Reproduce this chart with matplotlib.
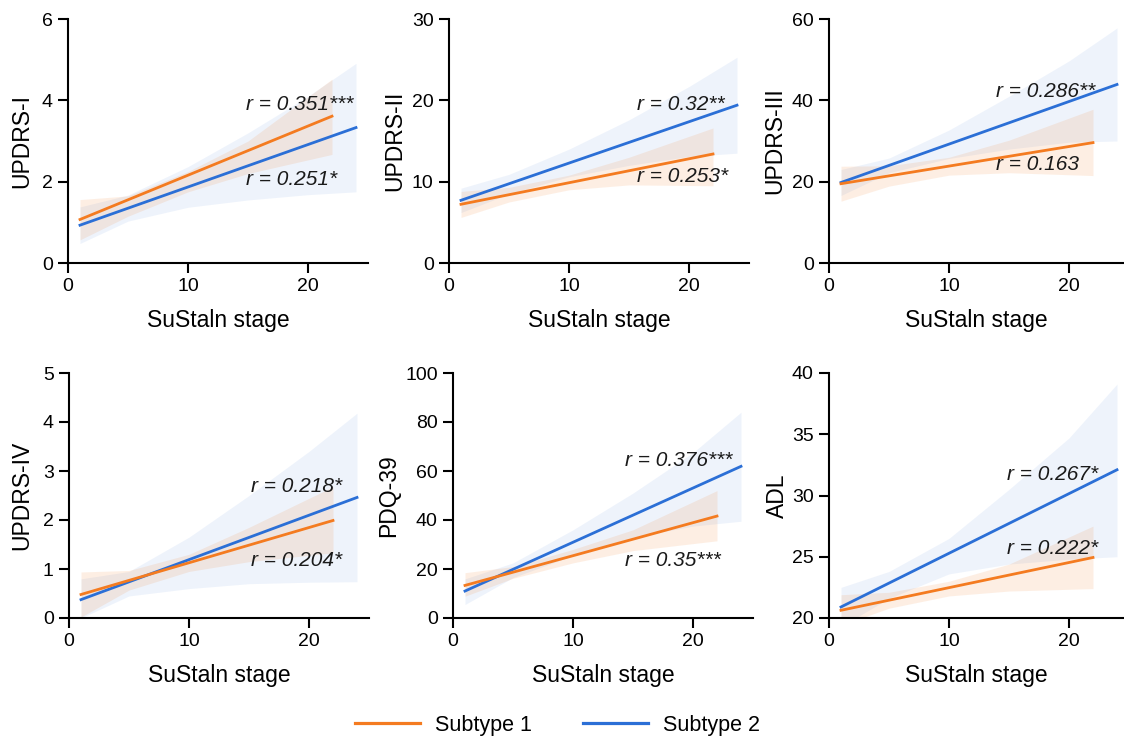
import matplotlib
matplotlib.use("Agg")
import matplotlib.pyplot as plt
from matplotlib.lines import Line2D

plt.rcParams["font.family"] = ["Liberation Sans", "DejaVu Sans"]

ORANGE = "#F47B20"
BLUE = "#2B6FD6"

# x positions where the confidence bands were read
x_s1 = [1, 5, 10, 15, 22]
x_s2 = [1, 5, 10, 15, 20, 24]

# fitted line end points (x=1 and x=22 for subtype 1, x=1 and x=24 for subtype 2)
line_s1 = {
    "UPDRS-I": [1.07, 3.61],
    "UPDRS-II": [7.22, 13.4],
    "UPDRS-III": [19.5, 29.6],
    "UPDRS-IV": [0.48, 1.99],
    "PDQ-39": [13.3, 41.6],
    "ADL": [20.63, 24.94],
}
line_s2 = {
    "UPDRS-I": [0.93, 3.33],
    "UPDRS-II": [7.71, 19.4],
    "UPDRS-III": [19.8, 43.9],
    "UPDRS-IV": [0.375, 2.46],
    "PDQ-39": [11.0, 61.9],
    "ADL": [20.9, 32.1],
}

# 95% CI bands
upper_s1 = {
    "UPDRS-I": [1.56, 1.65, 2.25, 3.0, 4.52],
    "UPDRS-II": [8.8, 9.3, 10.8, 13.0, 16.6],
    "UPDRS-III": [23.8, 23.9, 26.0, 30.2, 37.8],
    "UPDRS-IV": [0.94, 0.97, 1.30, 1.85, 2.68],
    "PDQ-39": [18.5, 21.0, 28.0, 36.0, 52.0],
    "ADL": [21.9, 22.1, 23.0, 24.4, 27.5],
}
lower_s1 = {
    "UPDRS-I": [0.57, 1.15, 1.75, 2.2, 2.67],
    "UPDRS-II": [5.6, 7.5, 9.0, 9.6, 9.5],
    "UPDRS-III": [15.2, 18.9, 21.6, 22.2, 21.5],
    "UPDRS-IV": [0.02, 0.57, 0.95, 1.15, 1.33],
    "PDQ-39": [8.9, 16.2, 22.5, 27.5, 31.5],
    "ADL": [19.4, 20.8, 21.8, 22.2, 22.4],
}
upper_s2 = {
    "UPDRS-I": [1.38, 1.67, 2.37, 3.2, 4.1, 4.91],
    "UPDRS-II": [9.2, 10.9, 14.0, 17.6, 21.7, 25.3],
    "UPDRS-III": [23.0, 25.8, 32.7, 41.0, 49.7, 57.8],
    "UPDRS-IV": [0.80, 0.95, 1.65, 2.5, 3.4, 4.18],
    "PDQ-39": [16.0, 22.5, 36.0, 51.0, 67.5, 84.0],
    "ADL": [22.5, 23.8, 26.5, 30.5, 34.7, 39.1],
}
lower_s2 = {
    "UPDRS-I": [0.48, 1.03, 1.37, 1.55, 1.68, 1.75],
    "UPDRS-II": [6.2, 8.5, 10.6, 12.0, 13.1, 13.5],
    "UPDRS-III": [16.6, 22.2, 25.7, 28.0, 29.7, 30.0],
    "UPDRS-IV": [0.0, 0.45, 0.6, 0.7, 0.73, 0.74],
    "PDQ-39": [5.5, 16.5, 25.5, 33.0, 37.5, 39.5],
    "ADL": [19.3, 21.6, 23.6, 24.4, 24.8, 25.0],
}

# r labels: (label, x, y)
r_s1 = {
    "UPDRS-I": ("r = 0.351***", 14.8, 3.9),
    "UPDRS-II": ("r = 0.253*", 15.7, 10.6),
    "UPDRS-III": ("r = 0.163", 13.9, 24.1),
    "UPDRS-IV": ("r = 0.204*", 15.2, 1.18),
    "PDQ-39": ("r = 0.35***", 14.3, 23.3),
    "ADL": ("r = 0.222*", 14.8, 25.7),
}
r_s2 = {
    "UPDRS-I": ("r = 0.251*", 14.8, 2.05),
    "UPDRS-II": ("r = 0.32**", 15.7, 19.5),
    "UPDRS-III": ("r = 0.286**", 13.9, 42.1),
    "UPDRS-IV": ("r = 0.218*", 15.2, 2.68),
    "PDQ-39": ("r = 0.376***", 14.3, 64.4),
    "ADL": ("r = 0.267*", 14.8, 31.7),
}

panels = ["UPDRS-I", "UPDRS-II", "UPDRS-III", "UPDRS-IV", "PDQ-39", "ADL"]
yticks = {
    "UPDRS-I": [0, 2, 4, 6],
    "UPDRS-II": [0, 10, 20, 30],
    "UPDRS-III": [0, 20, 40, 60],
    "UPDRS-IV": [0, 1, 2, 3, 4, 5],
    "PDQ-39": [0, 20, 40, 60, 80, 100],
    "ADL": [20, 25, 30, 35, 40],
}

W, H = 1124, 743
# axes boxes in pixels: left, top, width, height, xmax, ylabel offset
boxes = [
    (68, 19, 300, 244, 25, 46),
    (449, 19, 300, 244, 25, 54),
    (829, 19, 294, 244, 24.5, 54),
    (69, 373, 300, 245, 25, 47),
    (453, 373, 300, 245, 25, 64),
    (829, 373, 294, 245, 24.5, 52),
]

fig = plt.figure(figsize=(W / 100, H / 100), dpi=100)

for name, (l, t, w, h, xmax, yoff) in zip(panels, boxes):
    ax = fig.add_axes([l / W, 1 - (t + h) / H, w / W, h / H])

    ax.fill_between(x_s2, lower_s2[name], upper_s2[name], color=BLUE,
                    alpha=0.08, lw=0)
    ax.plot([1, 24], line_s2[name], color=BLUE, lw=2)
    ax.fill_between(x_s1, lower_s1[name], upper_s1[name], color=ORANGE,
                    alpha=0.12, lw=0)
    ax.plot([1, 22], line_s1[name], color=ORANGE, lw=2)

    for lab, tx, ty in (r_s1[name], r_s2[name]):
        ax.text(tx, ty, lab, fontsize=15, style="italic", va="center",
                ha="left", color="#1a1a1a")

    yt = yticks[name]
    ax.set_ylim(yt[0], yt[-1])
    ax.set_xlim(0, xmax)
    ax.set_yticks(yt)
    ax.set_xticks([0, 10, 20])
    ax.set_ylabel(name, fontsize=16.5, va="center")
    ax.yaxis.set_label_coords(-yoff / w, 0.5)
    ax.set_xlabel("SuStaln stage", fontsize=16.5, labelpad=10)
    for s in ["top", "right"]:
        ax.spines[s].set_visible(False)
    for s in ["left", "bottom"]:
        ax.spines[s].set_linewidth(1.5)
    ax.tick_params(width=1.5, length=7, labelsize=14, pad=4)

handles = [Line2D([0], [0], color=ORANGE, lw=2.3),
           Line2D([0], [0], color=BLUE, lw=2.3)]
fig.legend(handles, ["Subtype 1", "Subtype 2"], loc="center",
           bbox_to_anchor=(0.496, 0.024), ncol=2, frameon=False,
           fontsize=15.5, handlelength=3.0, handletextpad=0.7,
           columnspacing=2.4)

fig.savefig("out.png", dpi=100)
